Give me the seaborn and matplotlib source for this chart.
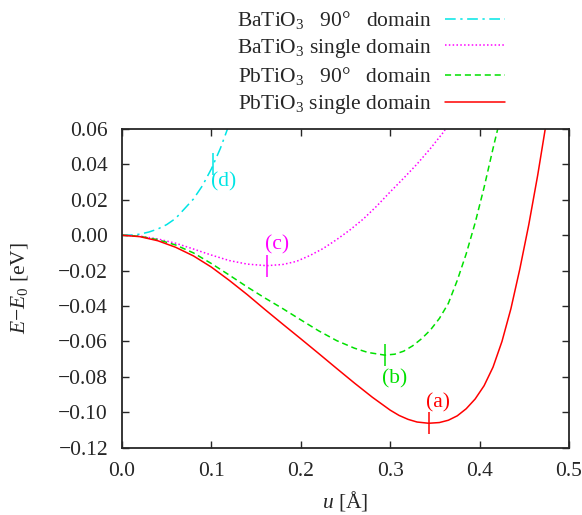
import matplotlib
matplotlib.use("Agg")
import matplotlib.pyplot as plt
import seaborn as sns
import pandas as pd

# ---- data ----
u_bto90 = [0.0, 0.01, 0.02, 0.03, 0.04, 0.05, 0.06, 0.07, 0.08, 0.09, 0.10, 0.11, 0.118]
e_bto90 = [0.0, 0.0001, 0.0006, 0.0018, 0.0035, 0.0060, 0.0095, 0.0150, 0.0205, 0.0280,
           0.0375, 0.0490, 0.0600]

u_btos = [0.0, 0.02, 0.04, 0.06, 0.08, 0.10, 0.12, 0.14, 0.162, 0.18, 0.195, 0.21, 0.225,
          0.24, 0.255, 0.27, 0.285, 0.30, 0.315, 0.33, 0.345, 0.36, 0.363]
e_btos = [0.0, -0.0005, -0.0021, -0.0045, -0.0078, -0.0112, -0.0143, -0.0163, -0.0172,
          -0.0165, -0.0148, -0.0115, -0.0075, -0.0025, 0.0030, 0.0092, 0.0165, 0.0245,
          0.0322, 0.0402, 0.0490, 0.0585, 0.0610]

u_pto90 = [0.0, 0.02, 0.04, 0.06, 0.08, 0.10, 0.12, 0.14, 0.16, 0.18, 0.20, 0.22, 0.24,
           0.26, 0.275, 0.2937, 0.305, 0.315, 0.325, 0.335, 0.345, 0.355, 0.365, 0.375,
           0.385, 0.395, 0.405, 0.415, 0.425]
e_pto90 = [0.0, -0.0006, -0.0025, -0.0055, -0.0100, -0.0160, -0.0225, -0.0292, -0.0355,
           -0.0415, -0.0478, -0.0540, -0.0595, -0.0638, -0.0662, -0.0677, -0.0672, -0.0655,
           -0.0625, -0.0585, -0.0535, -0.0470, -0.0385, -0.0255, -0.0105, 0.0070, 0.0270,
           0.0490, 0.0700]

u_ptos = [0.0, 0.02, 0.04, 0.06, 0.08, 0.10, 0.12, 0.14, 0.16, 0.18, 0.20, 0.22, 0.24,
          0.26, 0.28, 0.30, 0.31, 0.32, 0.33, 0.343, 0.355, 0.365, 0.375, 0.385, 0.395,
          0.405, 0.415, 0.425, 0.435, 0.445, 0.455, 0.465, 0.475]
e_ptos = [0.0, -0.0008, -0.0031, -0.0068, -0.0117, -0.0180, -0.0255, -0.0335, -0.0420,
          -0.0503, -0.0585, -0.0668, -0.0752, -0.0835, -0.0915, -0.0988, -0.1018, -0.1040,
          -0.1055, -0.1062, -0.1058, -0.1045, -0.1020, -0.0980, -0.0925, -0.0850, -0.0745,
          -0.0600, -0.0415, -0.0190, 0.0060, 0.0340, 0.0650]

labels = ["BaTiO$_3$   90°   domain", "BaTiO$_3$ single domain",
          "PbTiO$_3$   90°   domain", "PbTiO$_3$ single domain"]

mark_u = [0.343, 0.2937, 0.162, 0.1023]
mark_e = [-0.1062, -0.0678, -0.0172, 0.0405]
mark_txt = ["(a)", "(b)", "(c)", "(d)"]
txt_u = [0.353, 0.3046, 0.173, 0.114]
txt_e = [-0.0949, -0.0814, -0.0056, 0.0301]

xticks = [0.0, 0.1, 0.2, 0.3, 0.4, 0.5]
yticks = [-0.12, -0.10, -0.08, -0.06, -0.04, -0.02, 0.00, 0.02, 0.04, 0.06]

# ---- style ----
sns.set_style("ticks")
plt.rcParams["font.family"] = ["Liberation Serif", "DejaVu Serif"]
plt.rcParams["mathtext.fontset"] = "custom"
plt.rcParams["mathtext.rm"] = "Liberation Serif"
plt.rcParams["mathtext.it"] = "Liberation Serif:italic"
plt.rcParams["font.size"] = 15.5

c_cyan = "#00e5e5"
c_mag = "#ff00ff"
c_green = "#00e000"
c_red = "#ff0000"

fig = plt.figure(figsize=(5.82, 5.15), dpi=100)
ax = fig.add_axes([0.2096, 0.1307, 0.7681, 0.6188])

series = [
    (u_bto90, e_bto90, c_cyan, (0, (7, 3, 1.5, 3))),
    (u_btos, e_btos, c_mag, (0, (1, 1.5))),
    (u_pto90, e_pto90, c_green, (0, (4, 2.5))),
    (u_ptos, e_ptos, c_red, "-"),
]
for (xs, ys, col, ls), lab in zip(series, labels):
    df = pd.DataFrame({"u": xs, "E": ys})
    sns.lineplot(data=df, x="u", y="E", ax=ax, color=col, linestyle=ls,
                 linewidth=1.1, label=lab, sort=False, estimator=None)

mcols = [c_red, c_green, c_mag, c_cyan]
for mu, me, t, tu, te, col in zip(mark_u, mark_e, mark_txt, txt_u, txt_e, mcols):
    ax.plot([mu], [me], marker="|", markersize=16, markeredgewidth=1.1, color=col,
            linestyle="none")
    ax.text(tu, te, t, color=col, ha="center", va="center", fontsize=15.5)

ax.set_xlim(0, 0.5)
ax.set_ylim(-0.12, 0.06)
ax.set_xticks(xticks)
ax.set_yticks(yticks)
ax.set_xticklabels([f"{v:.1f}" for v in xticks])
ax.set_yticklabels([f"{v:.2f}".replace("-", "\u2212") for v in yticks])
ax.tick_params(axis="y", direction="in", length=5, width=1, right=True, pad=10,
               labelsize=15.5)
ax.tick_params(axis="x", direction="in", length=5, width=1, top=True, pad=10,
               labelsize=15.5)
for s in ax.spines.values():
    s.set_linewidth(1.3)
    s.set_visible(True)

ax.set_xlabel("$u$ [Å]", fontsize=15.5, labelpad=6)
ax.set_ylabel("$E$$-$$E_0$ [eV]", fontsize=15.5, labelpad=20)

leg = ax.legend(loc="lower right", bbox_to_anchor=(0.886, 1.0), frameon=False,
                markerfirst=False, handlelength=2.8, handletextpad=0.6,
                labelspacing=0.26, borderaxespad=0.2, fontsize=15.5)

fig.savefig("out.png", dpi=100)
